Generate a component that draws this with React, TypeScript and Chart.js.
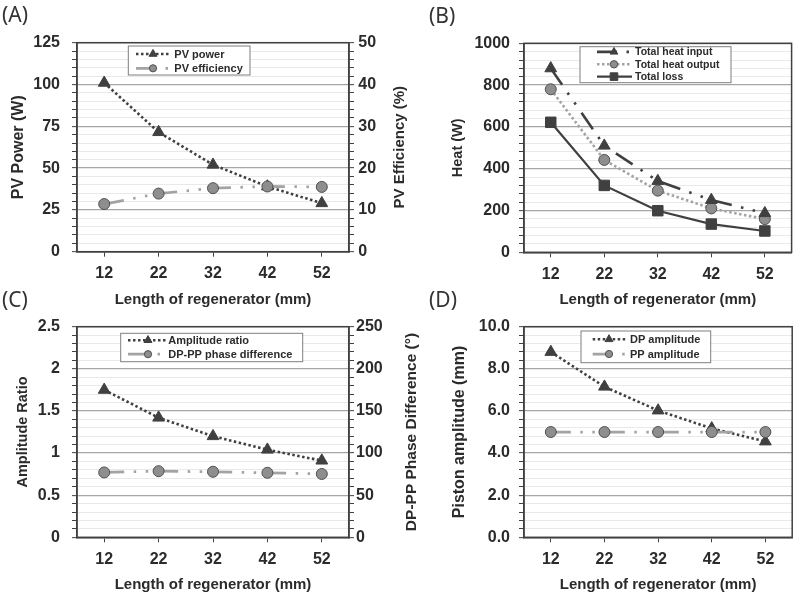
import React, { useEffect, useRef } from 'react';
import { Chart, registerables } from 'chart.js';

Chart.register(...registerables);

// ---------------- data ----------------
const regeneratorLength = ['12', '22', '32', '42', '52'];
const pvPower = [101, 71.5, 52, 39, 29];
const pvEfficiency = [11.4, 13.9, 15.2, 15.6, 15.5];
const totalHeatInput = [880, 510, 341, 250, 187];
const totalHeatOutput = [780, 442, 295, 210, 159];
const totalLoss = [622, 320, 199, 135, 102];
const amplitudeRatio = [1.75, 1.42, 1.2, 1.04, 0.91];
const phaseDifference = [77, 78.5, 77.8, 76.6, 75.2];
const dpAmplitude = [8.8, 7.15, 6.02, 5.17, 4.55];
const ppAmplitude = [5.0, 5.0, 5.0, 5.0, 5.0];

// axis ranges: [min, max, major step, minor step]
const pvPowerAxis = [0, 125, 25, 5];
const pvEffAxis = [0, 50, 10, 2];
const heatAxis = [0, 1000, 200, 40];
const ampRatioAxis = [0, 2.5, 0.5, 0.1];
const phaseAxis = [0, 250, 50, 10];
const pistonAxis = [0, 10, 2, 0.4];

// ---------------- styles ----------------
const FONT = '"Liberation Sans", Arial, sans-serif';
const TEXT = '#2b2b2b';
const AXIS = '#404040';
const MAJOR_GRID = '#a6a6a6';
const MINOR_GRID = '#e9e9e9';
const DARK = '#404040';
const LIGHT = '#a3a3a3';
const CIRCLE_FILL = '#8e8e8e';
const DOT = [2.5, 2.5];
const DASH_DOT_DOT = [20, 9.5, 2.5, 9.5, 2.5, 10];
const TICK_FONT = { family: FONT, size: 16, weight: 'bold' as const };

type Style = {
  color: string; width: number; dash: number[]; marker: string;
  fill: string; stroke: string; radius: number; legendR: number;
};

const triDotted: Style = { color: DARK, width: 2.6, dash: DOT, marker: 'triangle', fill: DARK, stroke: DARK, radius: 6.8, legendR: 4.6 };
const triDashDot: Style = { color: DARK, width: 2.6, dash: DASH_DOT_DOT, marker: 'triangle', fill: DARK, stroke: DARK, radius: 6.8, legendR: 4.4 };
const circDashDot: Style = { color: LIGHT, width: 2.75, dash: DASH_DOT_DOT, marker: 'circle', fill: CIRCLE_FILL, stroke: '#505050', radius: 5.5, legendR: 3.6 };
const circDotted: Style = { color: LIGHT, width: 2.6, dash: DOT, marker: 'circle', fill: CIRCLE_FILL, stroke: '#505050', radius: 5.5, legendR: 3.7 };
const squareSolid: Style = { color: DARK, width: 2.2, dash: [], marker: 'rect', fill: DARK, stroke: DARK, radius: 7.4, legendR: 3.8 };

// ---------------- helpers ----------------
function yScale(range: number[], o: {
  position: 'left' | 'right'; width: number; pad: number; grid: boolean;
  fmt?: (v: number) => string; title?: string; titleSize?: number; titlePad?: number;
}) {
  const [min, max, major, minor] = range;
  const isMajor = (v: number) => Math.abs(v / major - Math.round(v / major)) < 1e-6;
  const n = Math.round((max - min) / minor);
  const values: number[] = [];
  for (let i = 0; i <= n; i++) values.push(+(min + i * minor).toFixed(6));
  return {
    type: 'linear',
    position: o.position,
    min,
    max,
    afterBuildTicks: (s: any) => { s.ticks = values.map((v) => ({ value: v })); },
    afterFit: (s: any) => { s.width = o.width; },
    ticks: {
      autoSkip: false,
      padding: o.pad,
      color: TEXT,
      font: TICK_FONT,
      callback: (v: any) => (isMajor(+v) ? (o.fmt ? o.fmt(+v) : String(+v)) : ''),
    },
    grid: {
      drawOnChartArea: o.grid,
      color: (c: any) => (isMajor(c.tick ? c.tick.value : 0) ? MAJOR_GRID : MINOR_GRID),
      lineWidth: (c: any) => (isMajor(c.tick ? c.tick.value : 0) ? 1.3 : 1),
      drawTicks: true,
      tickLength: 5,
      tickColor: AXIS,
      tickWidth: 1,
    },
    border: { display: true, color: AXIS, width: 1.5 },
    title: o.title
      ? { display: true, text: o.title, color: TEXT, font: { family: FONT, size: o.titleSize, weight: 'bold' }, padding: { top: o.titlePad, bottom: 0 } }
      : { display: false },
  };
}

function xScale(height: number, pad: number, titlePadBottom: number) {
  return {
    type: 'category',
    offset: true,
    afterFit: (s: any) => { s.height = height; },
    ticks: { padding: pad, color: TEXT, font: TICK_FONT, autoSkip: false, maxRotation: 0, minRotation: 0 },
    grid: { display: true, drawOnChartArea: false, drawTicks: true, tickLength: 5, tickColor: AXIS, tickWidth: 1, offset: false },
    border: { display: true, color: AXIS, width: 1.5 },
    title: {
      display: true,
      text: 'Length of regenerator (mm)',
      color: TEXT,
      font: { family: FONT, size: 15, weight: 'bold' },
      padding: { top: 0, bottom: titlePadBottom },
    },
  };
}

function lineDataset(label: string, data: number[], yAxisID: string, st: Style, order: number) {
  return {
    label, data, yAxisID, order,
    borderColor: st.color,
    borderWidth: st.width,
    borderDash: st.dash,
    backgroundColor: st.fill,
    fill: false,
    tension: 0,
    pointStyle: st.marker,
    pointRadius: st.radius,
    pointHoverRadius: st.radius,
    pointBackgroundColor: st.fill,
    pointBorderColor: st.stroke,
    pointBorderWidth: 1,
  };
}

const framePlugin = {
  id: 'frame',
  beforeDatasetsDraw(chart: any) {
    const { ctx, chartArea: a } = chart;
    ctx.save();
    ctx.strokeStyle = AXIS;
    ctx.lineWidth = 1.5;
    ctx.strokeRect(a.left, a.top, a.right - a.left, a.bottom - a.top);
    ctx.restore();
  },
};

function rightTitle(text: string, x: number, size: number) {
  return {
    id: 'rightTitle',
    afterDraw(chart: any) {
      const { ctx, chartArea: a } = chart;
      ctx.save();
      ctx.translate(x, (a.top + a.bottom) / 2);
      ctx.rotate(-Math.PI / 2);
      ctx.font = `bold ${size}px ${FONT}`;
      ctx.fillStyle = TEXT;
      ctx.textAlign = 'center';
      ctx.textBaseline = 'middle';
      ctx.fillText(text, 0, 0);
      ctx.restore();
    },
  };
}

function drawMarker(ctx: CanvasRenderingContext2D, st: Style, x: number, y: number, r: number) {
  ctx.save();
  ctx.setLineDash([]);
  ctx.fillStyle = st.fill;
  ctx.strokeStyle = st.stroke;
  ctx.lineWidth = 1;
  ctx.beginPath();
  if (st.marker === 'triangle') {
    const s = Math.sin(Math.PI / 3) * r;
    ctx.moveTo(x, y - r);
    ctx.lineTo(x + s, y + r / 2);
    ctx.lineTo(x - s, y + r / 2);
    ctx.closePath();
  } else if (st.marker === 'circle') {
    ctx.arc(x, y, r, 0, Math.PI * 2);
  } else {
    ctx.rect(x - r, y - r, 2 * r, 2 * r);
  }
  ctx.fill();
  ctx.stroke();
  ctx.restore();
}

type LegendRow = { y: number; text: string; st: Style };
function legendBox(box: number[], sample: number[], markerX: number, textX: number, fontSize: number, rows: LegendRow[]) {
  return {
    id: 'legendBox',
    afterDraw(chart: any) {
      const ctx: CanvasRenderingContext2D = chart.ctx;
      const [x0, y0, x1, y1] = box;
      ctx.save();
      ctx.fillStyle = '#ffffff';
      ctx.fillRect(x0, y0, x1 - x0, y1 - y0);
      ctx.strokeStyle = '#7f7f7f';
      ctx.lineWidth = 1;
      ctx.strokeRect(x0, y0, x1 - x0, y1 - y0);
      for (const row of rows) {
        ctx.save();
        ctx.strokeStyle = row.st.color;
        ctx.lineWidth = row.st.width;
        ctx.setLineDash(row.st.dash);
        ctx.beginPath();
        ctx.moveTo(sample[0], row.y);
        ctx.lineTo(sample[1], row.y);
        ctx.stroke();
        ctx.restore();
        drawMarker(ctx, row.st, markerX, row.y, row.st.legendR);
        ctx.fillStyle = TEXT;
        ctx.font = `bold ${fontSize}px ${FONT}`;
        ctx.textAlign = 'left';
        ctx.textBaseline = 'middle';
        ctx.fillText(row.text, textX, row.y + 0.5);
      }
      ctx.restore();
    },
  };
}

function baseOptions(padTop: number, padRight: number, scales: any) {
  return {
    animation: false,
    responsive: true,
    maintainAspectRatio: false,
    events: [],
    layout: { padding: { top: padTop, right: padRight, left: 0, bottom: 0 } },
    plugins: { legend: { display: false }, tooltip: { enabled: false }, title: { display: false } },
    scales,
  };
}

// ---------------- panel configs ----------------
function configA() {
  return {
    type: 'line',
    data: {
      labels: regeneratorLength,
      datasets: [
        lineDataset('PV power', pvPower, 'y', triDotted, 2),
        lineDataset('PV efficiency', pvEfficiency, 'y1', circDashDot, 1),
      ],
    },
    options: baseOptions(42.7, 0, {
      x: xScale(63.3, 7, 6),
      y: yScale(pvPowerAxis, { position: 'left', width: 77, pad: 12, grid: true, title: 'PV Power (W)', titleSize: 16, titlePad: 8.9 }),
      y1: yScale(pvEffAxis, { position: 'right', width: 71, pad: 4.3, grid: false }),
    }),
    plugins: [
      framePlugin,
      rightTitle('PV Efficiency (%)', 399.5, 15),
      legendBox([128.3, 46, 250, 75], [136, 170], 153, 174.3, 11, [
        { y: 54, text: 'PV power', st: triDotted },
        { y: 68.3, text: 'PV efficiency', st: circDashDot },
      ]),
    ],
  };
}

function configB() {
  return {
    type: 'line',
    data: {
      labels: regeneratorLength,
      datasets: [
        lineDataset('Total heat input', totalHeatInput, 'y', triDashDot, 1),
        lineDataset('Total heat output', totalHeatOutput, 'y', circDotted, 2),
        lineDataset('Total loss', totalLoss, 'y', squareSolid, 3),
      ],
    },
    options: baseOptions(43.3, 2.7, {
      x: xScale(62.7, 8, 6),
      y: yScale(heatAxis, { position: 'left', width: 124, pad: 9, grid: true, title: 'Heat (W)', titleSize: 14.5, titlePad: 49.3 }),
    }),
    plugins: [
      framePlugin,
      legendBox([180, 46.7, 331, 82.7], [197, 232], 214, 235, 10.5, [
        { y: 51.9, text: 'Total heat input', st: triDashDot },
        { y: 64.3, text: 'Total heat output', st: circDotted },
        { y: 76.6, text: 'Total loss', st: squareSolid },
      ]),
    ],
  };
}

function configC() {
  return {
    type: 'line',
    data: {
      labels: regeneratorLength,
      datasets: [
        lineDataset('Amplitude ratio', amplitudeRatio, 'y', triDotted, 2),
        lineDataset('DP-PP phase difference', phaseDifference, 'y1', circDashDot, 1),
      ],
    },
    options: baseOptions(41.7, 0, {
      x: xScale(58.7, 8, 2),
      y: yScale(ampRatioAxis, { position: 'left', width: 77, pad: 12, grid: true, title: 'Amplitude Ratio', titleSize: 14.5, titlePad: 14.3 }),
      y1: yScale(phaseAxis, { position: 'right', width: 71, pad: 2, grid: false }),
    }),
    plugins: [
      framePlugin,
      rightTitle('DP-PP Phase Difference (°)', 412, 15.5),
      legendBox([120.7, 48.3, 302.7, 76.7], [128, 166], 148, 168.3, 11, [
        { y: 55.2, text: 'Amplitude ratio', st: triDotted },
        { y: 69.2, text: 'DP-PP phase difference', st: circDashDot },
      ]),
    ],
  };
}

function configD() {
  return {
    type: 'line',
    data: {
      labels: regeneratorLength,
      datasets: [
        lineDataset('DP amplitude', dpAmplitude, 'y', triDotted, 2),
        lineDataset('PP amplitude', ppAmplitude, 'y', circDashDot, 1),
      ],
    },
    options: baseOptions(41.7, 2.7, {
      x: xScale(58.7, 7.5, 2),
      y: yScale(pistonAxis, { position: 'left', width: 124, pad: 9, grid: true, fmt: (v) => v.toFixed(1), title: 'Piston amplitude (mm)', titleSize: 16, titlePad: 50.4 }),
    }),
    plugins: [
      framePlugin,
      legendBox([181, 46, 310.7, 77.7], [192.7, 226.7], 209, 230, 11, [
        { y: 54.3, text: 'DP amplitude', st: triDotted },
        { y: 69, text: 'PP amplitude', st: circDashDot },
      ]),
    ],
  };
}

// ---------------- components ----------------
function ChartPanel({ build, left, top, w, h }: { build: () => any; left: number; top: number; w: number; h: number }) {
  const ref = useRef<HTMLCanvasElement>(null);
  useEffect(() => {
    const chart = new Chart(ref.current as HTMLCanvasElement, build());
    return () => chart.destroy();
  }, []);
  return (
    <div style={{ position: 'absolute', left, top, width: w, height: h }}>
      <canvas ref={ref} />
    </div>
  );
}

const panelLabel: React.CSSProperties = {
  position: 'absolute',
  fontFamily: '"Noto Sans", "Open Sans", sans-serif',
  fontSize: 21,
  lineHeight: '24px',
  color: '#333',
  whiteSpace: 'nowrap',
};

export default function App() {
  return (
    <div style={{ position: 'absolute', left: 0, top: 0, width: 800, height: 596, background: '#fff', overflow: 'hidden' }}>
      <ChartPanel build={configA} left={0} top={0} w={420} h={315} />
      <ChartPanel build={configB} left={400} top={0} w={400} h={315} />
      <ChartPanel build={configC} left={0} top={285} w={420} h={311} />
      <ChartPanel build={configD} left={400} top={285} w={400} h={311} />
      <div style={{ ...panelLabel, left: 2, top: 2 }}>(A)</div>
      <div style={{ ...panelLabel, left: 429, top: 3 }}>(B)</div>
      <div style={{ ...panelLabel, left: 2, top: 287 }}>(C)</div>
      <div style={{ ...panelLabel, left: 429, top: 287 }}>(D)</div>
    </div>
  );
}
